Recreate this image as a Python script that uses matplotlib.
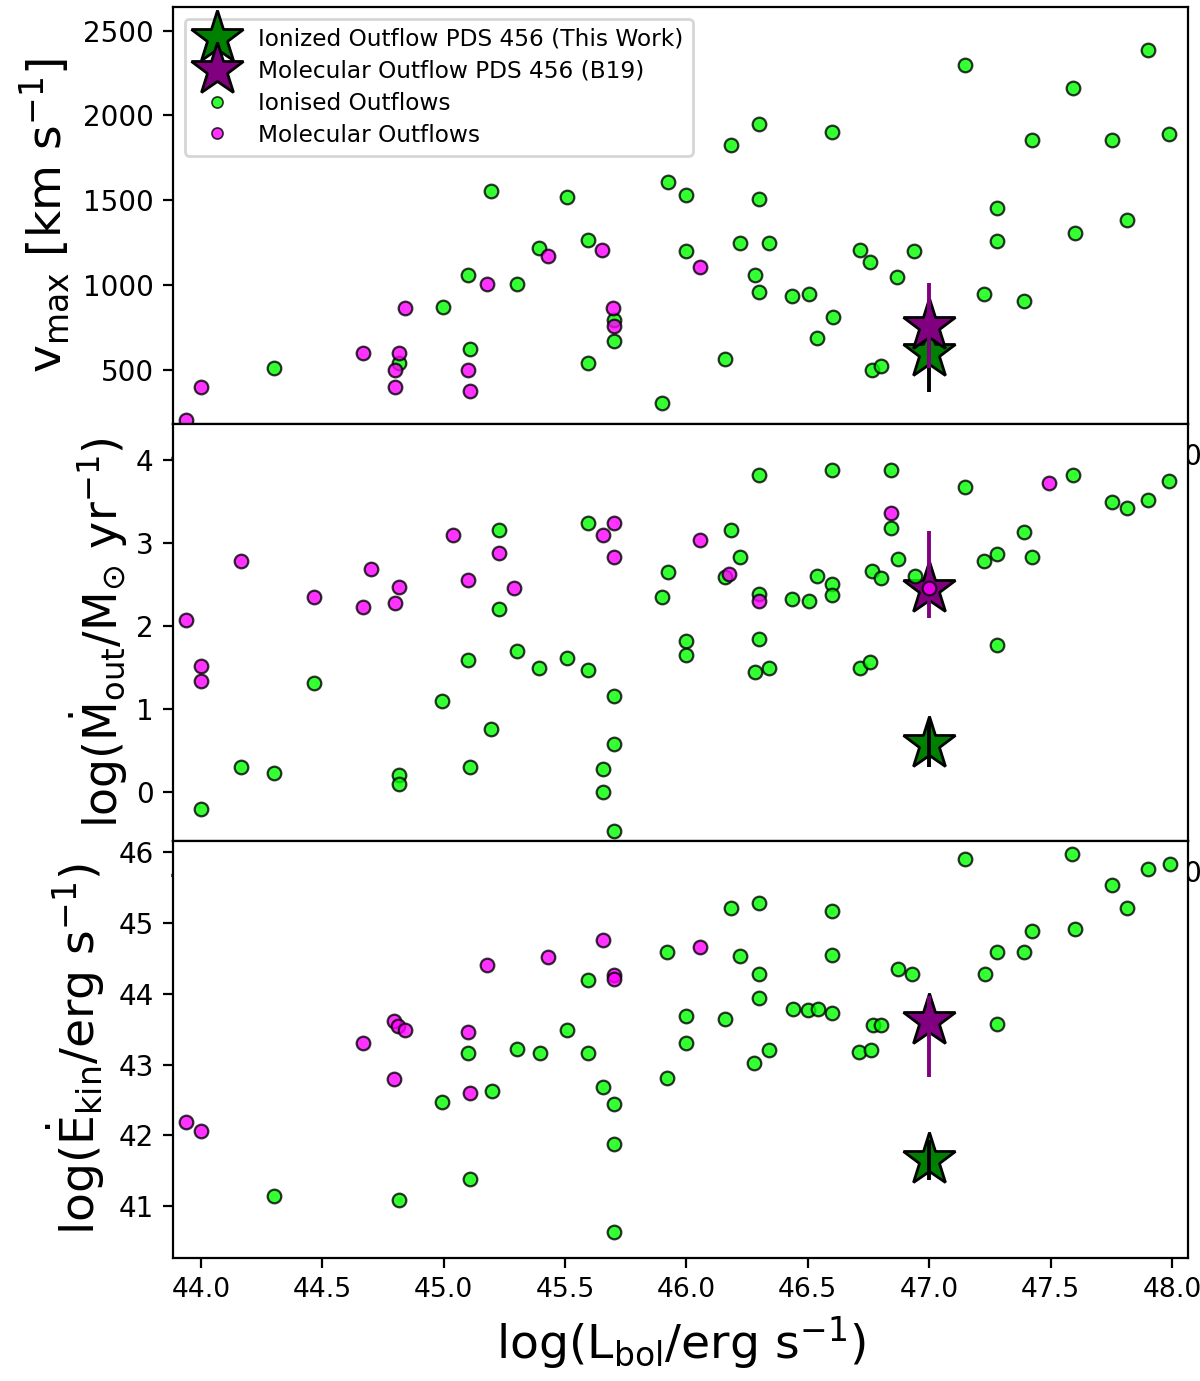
import matplotlib
matplotlib.use("Agg")
import matplotlib.pyplot as plt
from matplotlib.lines import Line2D

# ---------------- data ----------------
# PDS 456
pds_lbol = 47.0
ion_vmax, ion_vmax_err = 600, 235
mol_vmax, mol_vmax_err = 760, 250
ion_mdot, ion_mdot_err = 0.57, 0.27
mol_mdot, mol_mdot_err_lo, mol_mdot_err_hi = 2.44, 0.35, 0.70
ion_ekin, ion_ekin_err = 41.65, 0.28
mol_ekin, mol_ekin_err_lo, mol_ekin_err_hi = 43.62, 0.80, 0.35

# panel 1: v_max
v_ion_lbol = [44.30, 44.817, 44.996, 45.108, 45.099, 45.30, 45.394, 45.195, 45.506, 45.593,
              45.70, 45.70, 45.595, 45.899, 45.923, 46.0, 46.0, 46.185, 46.297, 46.297,
              46.219, 46.341, 46.281, 46.297, 46.436, 46.506, 46.602, 46.539, 46.60, 46.159,
              46.716, 46.757, 46.868, 46.938, 46.764, 46.80, 47.147, 47.278, 47.278, 47.226,
              47.39, 47.425, 47.591, 47.599, 47.754, 47.815, 47.902, 47.988]
v_ion_vmax = [510, 537, 872, 622, 1059, 1007, 1218, 1552, 1517, 1267,
              793, 671, 537, 301, 1604, 1531, 1198, 1828, 1952, 1505,
              1245, 1245, 1059, 956, 933, 947, 811, 685, 1901, 561,
              1208, 1133, 1047, 1197, 498, 524, 2300, 1455, 1257, 947,
              907, 1852, 2163, 1307, 1852, 1381, 2387, 1889]
v_mol_lbol = [43.938, 44.0, 44.666, 44.814, 44.80, 44.80, 44.84, 45.10, 45.108, 45.18,
              45.428, 45.653, 45.699, 45.70, 46.056]
v_mol_vmax = [203, 400, 600, 600, 498, 400, 862, 498, 376, 1007,
              1169, 1207, 862, 760, 1108]

# panel 2: log Mdot
m_ion_lbol = [44.0, 44.163, 44.302, 44.467, 44.814, 44.814, 44.995, 45.102, 45.108, 45.195,
              45.229, 45.229, 45.30, 45.394, 45.506, 45.593, 45.593, 45.70, 45.70, 45.655,
              45.655, 45.70, 45.923, 45.899, 46.0, 46.0, 46.185, 46.219, 46.157, 46.297,
              46.297, 46.297, 46.281, 46.341, 46.436, 46.506, 46.539, 46.60, 46.60, 46.60,
              46.716, 46.757, 46.764, 46.80, 46.844, 46.844, 46.87, 46.94, 47.147, 47.591,
              47.226, 47.278, 47.278, 47.39, 47.425, 47.754, 47.815, 47.902, 47.988]
m_ion_mdot = [-0.208, 0.30, 0.225, 1.31, 0.20, 0.093, 1.088, 1.59, 0.30, 0.755,
              3.157, 2.195, 1.69, 1.49, 1.61, 3.237, 1.465, 1.155, 0.574, 0.273,
              -0.008, -0.477, 2.65, 2.347, 1.817, 1.645, 3.157, 2.83, 2.59, 3.815,
              2.38, 1.84, 1.437, 1.485, 2.32, 2.30, 2.60, 2.50, 2.37, 3.87,
              1.485, 1.565, 2.655, 2.575, 3.18, 3.87, 2.80, 2.60, 3.667, 3.815,
              2.78, 2.857, 1.765, 3.133, 2.83, 3.486, 3.414, 3.51, 3.74]
m_mol_lbol = [43.938, 44.0, 44.0, 44.163, 44.467, 44.666, 44.70, 44.80, 44.814, 45.04,
              45.102, 45.229, 45.29, 45.655, 45.70, 45.70, 46.056, 46.175, 46.297, 46.844,
              47.0, 47.493]
m_mol_mdot = [2.07, 1.516, 1.332, 2.78, 2.35, 2.22, 2.68, 2.27, 2.47, 3.085,
              2.55, 2.88, 2.45, 3.085, 3.237, 2.83, 3.03, 2.62, 2.30, 3.36,
              2.45, 3.72]

# panel 3: log Ekin
e_ion_lbol = [44.302, 44.814, 44.995, 45.101, 45.108, 45.197, 45.30, 45.397, 45.509, 45.596,
              45.596, 45.655, 45.70, 45.70, 45.70, 45.92, 45.92, 46.0, 46.0, 46.16,
              46.185, 46.22, 46.28, 46.30, 46.30, 46.30, 46.34, 46.44, 46.50, 46.54,
              46.60, 46.60, 46.60, 46.71, 46.76, 46.77, 46.80, 46.87, 46.93, 47.147,
              47.23, 47.28, 47.28, 47.39, 47.425, 47.59, 47.60, 47.754, 47.815, 47.90,
              47.99]
e_ion_ekin = [41.146, 41.085, 42.477, 43.157, 41.38, 42.623, 43.218, 43.157, 43.485, 43.157,
              44.19, 42.68, 42.45, 41.88, 40.644, 42.81, 44.58, 43.69, 43.31, 43.64,
              45.20, 44.53, 43.02, 45.28, 44.27, 43.94, 43.20, 43.78, 43.77, 43.78,
              45.17, 44.55, 43.72, 43.18, 43.20, 43.55, 43.55, 44.35, 44.27, 45.89,
              44.27, 44.58, 43.57, 44.58, 44.88, 45.97, 44.91, 45.53, 45.20, 45.75,
              45.83]
e_mol_lbol = [43.938, 44.0, 44.666, 44.795, 44.813, 44.842, 44.796, 45.101, 45.108, 45.178,
              45.43, 45.656, 45.70, 45.70, 46.056]
e_mol_ekin = [42.187, 42.065, 43.307, 43.61, 43.546, 43.485, 42.80, 43.453, 42.60, 44.40,
              44.516, 44.755, 44.26, 44.21, 44.65]

legend_labels = ["Ionized Outflow PDS 456 (This Work)", "Molecular Outflow PDS 456 (B19)",
                 "Ionised Outflows", "Molecular Outflows"]
x_ticks = [44.0, 44.5, 45.0, 45.5, 46.0, 46.5, 47.0, 47.5, 48.0]

# ---------------- style ----------------
c_ion, c_mol = "lime", "magenta"
c_star_ion, c_star_mol = "green", "purple"
dot_kw = dict(s=24, edgecolors="black", linewidths=0.8, alpha=0.8, zorder=3)
star_ms = 20
lab_fs = 17

fig = plt.figure(figsize=(6.0, 6.905), dpi=200)
left, width = 0.1442, 0.8458
h = 0.30185
b0 = 0.08942
ax1 = fig.add_axes([left, b0 + 2 * h, width, h])
ax2 = fig.add_axes([left, b0 + h, width, h])
ax3 = fig.add_axes([left, b0, width, h])

def draw_stars(ax, y_ion, e_ion, y_mol, e_mol):
    ax.plot([pds_lbol], [y_ion], ls="none", marker="*", ms=star_ms, mfc=c_star_ion,
            mec="black", mew=1.0, zorder=2)
    ax.errorbar([pds_lbol], [y_ion], yerr=e_ion, fmt="none", ecolor="black",
                elinewidth=1.4, zorder=2)
    ax.plot([pds_lbol], [y_mol], ls="none", marker="*", ms=star_ms, mfc=c_star_mol,
            mec="black", mew=1.0, zorder=2)
    ax.errorbar([pds_lbol], [y_mol], yerr=e_mol, fmt="none", ecolor=c_star_mol,
                elinewidth=1.4, zorder=2)

# panel 1
draw_stars(ax1, ion_vmax, ion_vmax_err, mol_vmax, mol_vmax_err)
ax1.scatter(v_ion_lbol, v_ion_vmax, c=c_ion, **dot_kw)
ax1.scatter(v_mol_lbol, v_mol_vmax, c=c_mol, **dot_kw)
ax1.set_ylim(180, 2640)
ax1.set_yticks([500, 1000, 1500, 2000, 2500])
ax1.set_ylabel(r"v$_{\rm max}$ [km s$^{-1}$]", fontsize=lab_fs)

# panel 2
draw_stars(ax2, ion_mdot, ion_mdot_err, mol_mdot, [[mol_mdot_err_lo], [mol_mdot_err_hi]])
ax2.scatter(m_ion_lbol, m_ion_mdot, c=c_ion, **dot_kw)
ax2.scatter(m_mol_lbol, m_mol_mdot, c=c_mol, **dot_kw)
ax2.set_ylim(-0.59, 4.43)
ax2.set_yticks([0, 1, 2, 3, 4])
ax2.set_ylabel(r"log($\dot{\rm M}_{\rm out}$/M$_{\odot}$ yr$^{-1}$)", fontsize=16.5,
               labelpad=2)

# panel 3
draw_stars(ax3, ion_ekin, ion_ekin_err, mol_ekin, [[mol_ekin_err_lo], [mol_ekin_err_hi]])
ax3.scatter(e_ion_lbol, e_ion_ekin, c=c_ion, **dot_kw)
ax3.scatter(e_mol_lbol, e_mol_ekin, c=c_mol, **dot_kw)
ax3.set_ylim(40.28, 46.155)
ax3.set_yticks([41, 42, 43, 44, 45, 46])
ax3.set_ylabel(r"log($\dot{\rm E}_{\rm kin}$/erg s$^{-1}$)", fontsize=lab_fs)
ax3.set_xlabel(r"log(L$_{\rm bol}$/erg s$^{-1}$)", fontsize=lab_fs)

for ax in (ax1, ax2, ax3):
    ax.set_xlim(43.885, 48.066)
    ax.set_xticks(x_ticks)
    ax.set_xticklabels([f"{t:.1f}" for t in x_ticks])
ax3.tick_params(axis="x", labelsize=9.6)

handles = [
    Line2D([], [], ls="none", marker="*", ms=star_ms, mfc=c_star_ion, mec="black", mew=1.0),
    Line2D([], [], ls="none", marker="*", ms=star_ms, mfc=c_star_mol, mec="black", mew=1.0),
    Line2D([], [], ls="none", marker="o", ms=4.0, mfc=c_ion, mec="black", mew=0.6, alpha=0.8),
    Line2D([], [], ls="none", marker="o", ms=4.0, mfc=c_mol, mec="black", mew=0.6, alpha=0.8),
]
ax1.legend(handles, legend_labels, loc="upper left", fontsize=8.4, labelspacing=0.38,
           handletextpad=0.75)

fig.savefig("out.png", dpi=200)
